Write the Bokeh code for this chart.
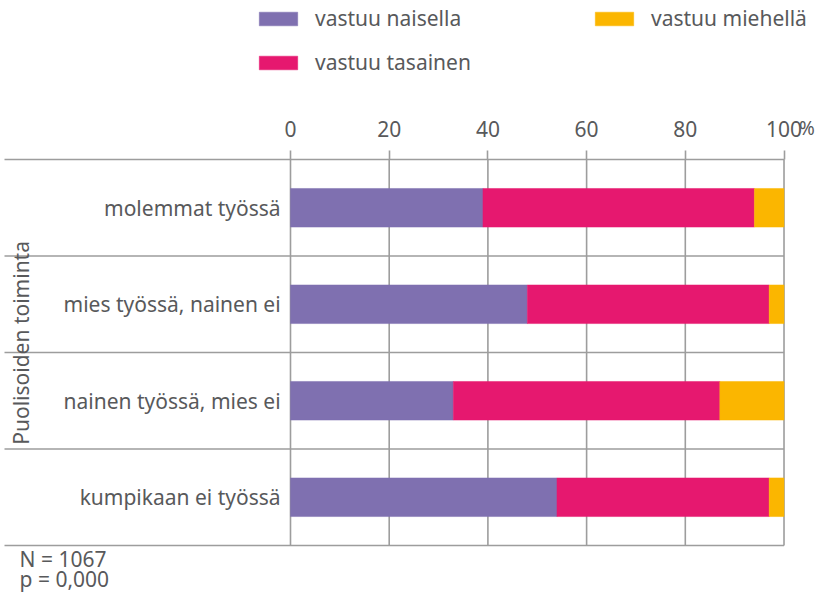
import math
from bokeh.plotting import figure
from bokeh.models import ColumnDataSource, Range1d, FixedTicker, Legend, LegendItem
from bokeh.core.properties import value
from bokeh.embed import file_html
from bokeh.resources import INLINE

# ---- data ----
categories = ["molemmat työssä", "mies työssä, nainen ei",
              "nainen työssä, mies ei", "kumpikaan ei työssä"]
naisella = [39, 48, 33, 54]
tasainen = [55, 49, 54, 43]
miehella = [6, 3, 13, 3]
series_labels = ["vastuu naisella", "vastuu tasainen", "vastuu miehellä"]
x_ticks = [0, 20, 40, 60, 80, 100]
unit_label = "%"
y_title = "Puolisoiden toiminta"
notes = ["N = 1067", "p = 0,000"]

# ---- style ----
colors = ["#7f70b0", "#e6186f", "#fbb600"]
FONT = "Noto Sans"
TXT = "#58595b"
LINE = "#9d9d9d"
FS = "21px"

n = len(categories)
ypos = [n - 1 - i for i in range(n)]  # top row first

src = ColumnDataSource(dict(y=ypos, cat=categories, naisella=naisella,
                            tasainen=tasainen, miehella=miehella))

X0, X1 = -58.76, 106.38
Y0, Y1 = -0.987, 5.148
LEFT = -57.95

p = figure(width=815, height=592, output_backend="svg", toolbar_location=None,
           x_range=Range1d(X0, X1), y_range=Range1d(Y0, Y1),
           x_axis_location="above", y_axis_location=None,
           min_border=0, outline_line_color=None)
p.grid.visible = False

top = max(ypos) + 0.5
bottom = min(ypos) - 0.5

# vertical grid lines
p.segment(x0=x_ticks, y0=[bottom] * len(x_ticks), x1=x_ticks, y1=[top] * len(x_ticks),
          line_color=LINE, line_width=1.6)
# horizontal separators between categories
seps = [y - 0.5 for y in ypos]
p.segment(x0=[LEFT] * len(seps), y0=seps, x1=[100] * len(seps), y1=seps,
          line_color=LINE, line_width=1.6)

# bars
rs = p.hbar_stack(["naisella", "tasainen", "miehella"], y="y", height=0.4,
                  color=colors, line_width=0.5, source=src)

# top axis placed on the top line
ax = p.xaxis[0]
ax.fixed_location = top
ax.bounds = (LEFT, 100)
ax.ticker = FixedTicker(ticks=x_ticks)
ax.axis_line_color = LINE
ax.axis_line_width = 1.6
ax.major_tick_out = 9
ax.major_tick_in = 0
ax.major_tick_line_color = LINE
ax.major_tick_line_width = 1.6
ax.minor_tick_line_color = None
ax.major_label_text_font = FONT
ax.major_label_text_font_size = FS
ax.major_label_text_color = TXT
ax.major_label_standoff = 14

# unit sign (right-aligned at the plot's right edge)
p.text(x=[X1 - 0.15], y=[top + 0.33], text=[unit_label], text_align="right",
       text_baseline="middle", text_font=value(FONT), text_font_size="19px",
       text_color=TXT)

# category labels
p.text(x=-2.0, y="y", text="cat", source=src, text_align="right",
       text_baseline="middle", text_font=value(FONT), text_font_size=FS,
       text_color=TXT)

# y title
p.text(x=[-54.6], y=[1.6], text=[y_title], angle=math.pi / 2,
       text_align="center", text_baseline="middle", text_font=value(FONT),
       text_font_size=FS, text_color=TXT)

# notes
p.text(x=[-54.9, -54.9], y=[-0.635, -0.852], text=notes, text_align="left",
       text_baseline="middle", text_font=value(FONT), text_font_size=FS,
       text_color=TXT)

# legends
H = 26
common = dict(padding=0, margin=0, background_fill_alpha=0, border_line_color=None,
              glyph_width=48, glyph_height=17, label_standoff=13,
              label_height=H, label_text_font=FONT, label_text_font_size=FS,
              label_text_color=TXT)
legA = Legend(items=[LegendItem(label=series_labels[0], renderers=[rs[0]]),
                     LegendItem(label=series_labels[1], renderers=[rs[1]])],
              location=(254, 516), spacing=42 - H, **common)
legB = Legend(items=[LegendItem(label=series_labels[2], renderers=[rs[2]])],
              location=(590, 560), **common)
p.add_layout(legA)
p.add_layout(legB)

open("out.html", "w").write(file_html(p, INLINE))
